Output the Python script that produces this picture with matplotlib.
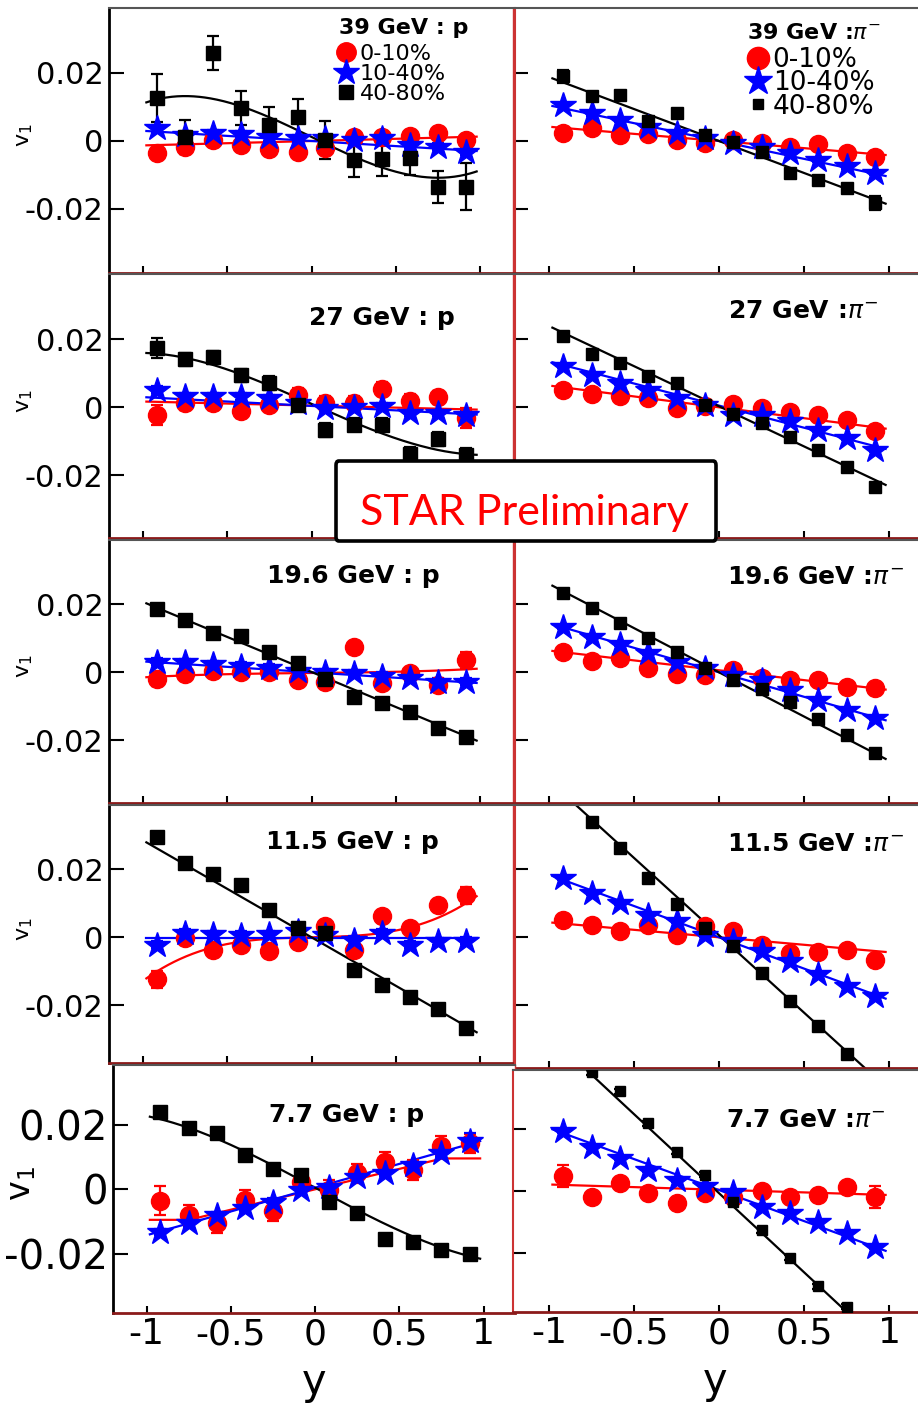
import numpy as np
import matplotlib
matplotlib.use('Agg')
import matplotlib.pyplot as plt
from matplotlib.lines import Line2D
from matplotlib.patches import FancyBboxPatch

plt.rcParams['font.family'] = ['DejaVu Sans']
plt.rcParams['axes.unicode_minus'] = False
plt.rcParams['mathtext.fontset'] = 'dejavusans'

W, H = 918, 1405

# rapidity bin centres
y_bins = [-0.917, -0.75, -0.583, -0.417, -0.25, -0.083, 0.083, 0.25, 0.417, 0.583, 0.75, 0.917]

# v1 per centrality: [0-10%, 10-40%, 40-80%]
v1_p39 = [[-0.0036, -0.0017, 0.0003, -0.0012, -0.0024, -0.0032, -0.0022, 0.0013, 0.0013, 0.0016, 0.0025, 0.0003],
          [0.0037, 0.0018, 0.0023, 0.0020, 0.0011, 0.0008, 0.0008, 0.0003, 0.0010, -0.0012, -0.0017, -0.0032],
          [0.0126, 0.0013, 0.0259, 0.0097, 0.0047, 0.0070, 0.0003, -0.0056, -0.0053, -0.0051, -0.0135, -0.0135]]
err_p39 = [[0.0012] * 12,
           [0.0010] * 12,
           [0.007, 0.005, 0.005, 0.005, 0.0054, 0.0055, 0.0055, 0.005, 0.005, 0.005, 0.0047, 0.0069]]
fit_p39 = [[0.0, 0.0013, 0.0], [0.0, -0.003, 0.0], [0.0012, -0.024, 0.0142]]

v1_pi39 = [[0.0024, 0.0037, 0.0018, 0.0022, 0.0003, -0.0005, 0.0003, -0.0005, -0.0017, -0.0010, -0.0036, -0.0046],
           [0.0105, 0.0081, 0.0061, 0.0042, 0.0024, 0.0008, -0.0007, -0.0017, -0.0036, -0.0056, -0.0075, -0.0095],
           [0.0190, 0.0133, 0.0135, 0.0060, 0.0081, 0.0018, -0.0002, -0.0031, -0.0095, -0.0114, -0.0139, -0.0182]]
err_pi39 = [[0.0008] * 12,
            [0.0006] * 12,
            [0.002] + [0.001] * 10 + [0.002]]
fit_pi39 = [[0.0, -0.0042, 0.0], [0.0, -0.0105, 0.0], [0.0, -0.0188, 0.0]]

v1_p27 = [[-0.0022, 0.0013, 0.0013, -0.0012, 0.0008, 0.0037, 0.0013, 0.0013, 0.0055, 0.0018, 0.0029, -0.0031],
          [0.0052, 0.0032, 0.0032, 0.0032, 0.0026, 0.0013, -0.0002, 0.0, 0.0003, -0.0017, -0.0017, -0.0022],
          [0.0175, 0.0141, 0.0147, 0.0094, 0.0072, 0.0008, -0.0066, -0.0051, -0.0051, -0.0138, -0.0093, -0.0140]]
err_p27 = [[0.003] + [0.002] * 10 + [0.003],
           [0.001] * 12,
           [0.003] + [0.002] * 11]
fit_p27 = [[0.0005, -0.0012, 0.0], [0.0004, -0.0026, 0.0], [0.001, -0.022, 0.007]]

v1_pi27 = [[0.0052, 0.0039, 0.0032, 0.0028, -0.0002, 0.0003, 0.0010, -0.0002, -0.0015, -0.0022, -0.0036, -0.0071],
           [0.0121, 0.0096, 0.0072, 0.0052, 0.0028, 0.0008, -0.0022, -0.0022, -0.0041, -0.0066, -0.0090, -0.0125],
           [0.0209, 0.0157, 0.0131, 0.0091, 0.0072, 0.0008, -0.0020, -0.0046, -0.0088, -0.0125, -0.0177, -0.0233]]
err_pi27 = [[0.0008] * 12, [0.0006] * 12, [0.0008] * 12]
fit_pi27 = [[0.0, -0.0064, 0.0], [0.0005, -0.013, 0.0], [0.0003, -0.0236, 0.0]]

v1_p196 = [[-0.0020, -0.0006, 0.0004, 0.0002, 0.0, -0.0023, -0.0028, 0.0073, -0.0032, -0.0003, -0.0037, 0.0036],
           [0.0031, 0.0029, 0.0024, 0.0020, 0.0014, 0.0004, 0.0, -0.0003, -0.0010, -0.0016, -0.0028, -0.0028],
           [0.0187, 0.0154, 0.0117, 0.0108, 0.0061, 0.0027, -0.0020, -0.0072, -0.0091, -0.0116, -0.0163, -0.0190]]
err_p196 = [[0.002] + [0.0015] * 10 + [0.0025], [0.001] * 12, [0.0012] * 12]
fit_p196 = [[-0.0002, 0.0005, 0.0008], [0.0, -0.0032, 0.0], [0.0001, -0.0206, 0.0]]

v1_pi196 = [[0.0060, 0.0033, 0.0043, 0.0014, -0.0006, -0.0008, 0.0007, -0.0016, -0.0022, -0.0022, -0.0042, -0.0047],
            [0.0134, 0.0104, 0.0082, 0.0056, 0.0031, 0.0012, -0.0008, -0.0022, -0.0052, -0.0081, -0.0110, -0.0135],
            [0.0232, 0.0190, 0.0144, 0.0101, 0.0060, 0.0014, -0.0022, -0.0049, -0.0086, -0.0137, -0.0184, -0.0237]]
err_pi196 = [[0.0008] * 12, [0.0006] * 12, [0.0008] * 12]
fit_pi196 = [[0.0006, -0.0058, 0.0], [0.0, -0.0144, 0.0], [0.0, -0.026, 0.0]]

v1_p115 = [[-0.0124, -0.0002, -0.0036, -0.0022, -0.0041, -0.0014, 0.0032, -0.0036, 0.0062, 0.0027, 0.0096, 0.0123],
           [-0.0022, 0.0013, 0.0010, 0.0008, 0.0010, 0.0020, 0.0008, -0.0007, 0.0013, -0.0022, -0.0012, -0.0010],
           [0.0296, 0.0218, 0.0185, 0.0154, 0.0081, 0.0027, 0.0013, -0.0095, -0.0139, -0.0176, -0.0212, -0.0266]]
err_p115 = [[0.0025] + [0.0015] * 10 + [0.0025], [0.001] * 12, [0.0015] + [0.001] * 11]
fit_p115 = [[0.0, 0.001, 0.0118], [-0.0002, 0.0, 0.0], [0.0, -0.0285, 0.0]]

v1_pi115 = [[0.0052, 0.0037, 0.0020, 0.0037, 0.0008, 0.0032, 0.0018, -0.0022, -0.0046, -0.0043, -0.0036, -0.0068],
            [0.0174, 0.0130, 0.0100, 0.0066, 0.0047, 0.0008, -0.0012, -0.0041, -0.0070, -0.0109, -0.0143, -0.0173],
            [0.0415, 0.0340, 0.0264, 0.0174, 0.0098, 0.0027, -0.0026, -0.0104, -0.0188, -0.0261, -0.0342, -0.0420]]
err_pi115 = [[0.0008] * 12, [0.0006] * 12, [0.0008] * 12]
fit_pi115 = [[0.0, -0.0044, 0.0], [0.0, -0.0184, 0.0], [0.0006, -0.0455, 0.0]]

v1_p77 = [[-0.0035, -0.0080, -0.0106, -0.0033, -0.0069, 0.0024, -0.0002, 0.0050, 0.0086, 0.0060, 0.0135, 0.0143],
          [-0.0132, -0.0106, -0.0080, -0.0059, -0.0038, -0.0002, 0.0008, 0.0039, 0.0050, 0.0076, 0.0112, 0.0151],
          [0.0241, 0.0190, 0.0176, 0.0107, 0.0062, 0.0045, -0.0041, -0.0073, -0.0155, -0.0163, -0.0189, -0.0201]]
err_p77 = [[0.0045] + [0.003] * 11, [0.001] * 11 + [0.0025], [0.0013] * 12]
fit_p77 = [[0.0, 0.0127, 0.0], [0.0005, 0.0148, 0.0], [0.0005, -0.0281, 0.0058]]
# the central fit is flat outside |y| ~ 0.75
clip_p77 = [(-0.0095, 0.0096), None, None]

v1_pi77 = [[0.0049, -0.0020, 0.0027, -0.0008, -0.0038, -0.0005, -0.0018, 0.0001, -0.0018, -0.0013, 0.0012, -0.0020],
           [0.0192, 0.0143, 0.0106, 0.0068, 0.0036, 0.0016, -0.0002, -0.0051, -0.0072, -0.0099, -0.0137, -0.0180],
           [0.0460, 0.0383, 0.0321, 0.0219, 0.0127, 0.0052, -0.0034, -0.0126, -0.0216, -0.0308, -0.0374, -0.0470]]
err_pi77 = [[0.0035] + [0.0008] * 10 + [0.0035], [0.0006] * 12, [0.0008] * 12]
fit_pi77 = [[0.0004, -0.0017, 0.0], [0.0003, -0.020, 0.0], [-0.0007, -0.051, 0.0]]

cent_labels = ['0-10%', '10-40%', '40-80%']

fig = plt.figure(figsize=(W / 100, H / 100), dpi=100)
fig.patch.set_facecolor('white')


def make_axes(box, x0, xs, y0, ys):
    # box in pixels (left, top, right, bottom); x0/y0 pixel of the origin, xs/ys pixels per unit
    l, t, r, b = box
    ax = fig.add_axes([l / W, 1 - b / H, (r - l) / W, (b - t) / H])
    ax.set_xlim((l - x0) / xs, (r - x0) / xs)
    ax.set_ylim((y0 - b) / ys, (y0 - t) / ys)
    return ax


def draw_series(ax, vals, errs, fits, sq, clips=(None, None, None)):
    yy = np.linspace(-0.98, 0.98, 300)
    styles = [('o', 'red', 13), ('*', 'blue', 19), ('s', 'black', sq)]
    for (mk, col, ms), v, e, (a0, a1, a3), cl in zip(styles, vals, errs, fits, clips):
        f = a0 + a1 * yy + a3 * yy ** 3
        if cl is not None:
            f = np.clip(f, cl[0], cl[1])
        ax.plot(yy, f, color=col, lw=1.6, zorder=2)
        ax.errorbar(y_bins, v, yerr=e, fmt=mk, color=col, ms=ms, mec=col,
                    elinewidth=1.6, capsize=4, capthick=1.6, zorder=3)


def style_axes(ax, left_col, bottom_row, big=False):
    ax.set_xticks([-1, -0.5, 0, 0.5, 1])
    ax.set_xticklabels(['-1', '-0.5', '0', '0.5', '1'])
    ax.set_yticks([-0.02, 0, 0.02])
    ax.set_yticklabels(['-0.02', '0', '0.02'])
    ax.tick_params(axis='x', direction='in', length=5, width=1.5, top=False,
                   labelbottom=bottom_row, labelsize=26, pad=3)
    ax.tick_params(axis='y', direction='in', length=11 if left_col else 9, width=1.5,
                   right=False, labelleft=left_col,
                   labelsize=29 if big else 22, pad=3.5 if big else 4)
    ax.spines['top'].set_color('#555555')
    ax.spines['top'].set_linewidth(1.5)
    ax.spines['bottom'].set_color('#8b1a1a')
    ax.spines['bottom'].set_linewidth(2)
    if left_col:
        ax.spines['left'].set_color('black')
        ax.spines['left'].set_linewidth(2)
        ax.spines['right'].set_color('#cc3333')
        ax.spines['right'].set_linewidth(1)
        ax.set_ylabel(r'$\mathregular{v_1}$', fontsize=24 if big else 16)
        ax.yaxis.set_label_coords(-0.187 if big else -0.183, 0.52)
    else:
        ax.spines['left'].set_color('#cc3333')
        ax.spines['left'].set_linewidth(1.5)
        ax.spines['right'].set_visible(False)
    if bottom_row:
        ax.set_xlabel('y', fontsize=30, labelpad=7)


# (values, errors, fits, clip, title, title centre px, title size, box px, x-origin px, px per unit x,
#  y-origin px, px per unit y, left column, bottom row, square size)
panels = [
    (v1_p39, err_p39, fit_p39, None, '39 GeV : p', (404, 28), 16,
     (109, 8, 513, 273), 311.5, 168.5, 141.0, 3400, True, False, 10),
    (v1_pi39, err_pi39, fit_pi39, None, r'39 GeV :$\pi^{-}$', (814, 33), 16,
     (515, 8, 918, 273), 719, 170, 141.0, 3400, False, False, 8),
    (v1_p27, err_p27, fit_p27, None, '27 GeV : p', (382, 318), 18,
     (109, 274, 513, 538), 311.5, 168.5, 407.3, 3400, True, False, 10),
    (v1_pi27, err_pi27, fit_pi27, None, r'27 GeV :$\pi^{-}$', (803, 311), 18,
     (515, 274, 918, 538), 719, 170, 407.3, 3400, False, False, 8),
    (v1_p196, err_p196, fit_p196, None, '19.6 GeV : p', (353, 576), 18,
     (109, 540, 513, 803), 311.5, 168.5, 672.3, 3400, True, False, 10),
    (v1_pi196, err_pi196, fit_pi196, None, r'19.6 GeV :$\pi^{-}$', (815, 577), 18,
     (515, 540, 918, 803), 719, 170, 672.3, 3400, False, False, 8),
    (v1_p115, err_p115, fit_p115, None, '11.5 GeV : p', (352, 842), 18,
     (109, 805, 513, 1063), 311.5, 168.5, 937.3, 3400, True, False, 10),
    (v1_pi115, err_pi115, fit_pi115, None, r'11.5 GeV :$\pi^{-}$', (815, 844), 18,
     (515, 805, 918, 1068), 719, 170, 937.3, 3400, False, False, 8),
    (v1_p77, err_p77, fit_p77, clip_p77, '7.7 GeV : p', (347, 1115), 18,
     (113, 1065, 515, 1313), 315, 168.5, 1189.3, 3215, True, True, 10),
    (v1_pi77, err_pi77, fit_pi77, None, r'7.7 GeV :$\pi^{-}$', (806, 1120), 18,
     (513, 1070, 918, 1312), 719, 170, 1191.0, 3100, False, True, 7),
]

axes = []
for (vals, errs, fits, clips, title, tpos, tsize, box, x0, xs, y0, ys,
     left_col, bottom_row, sq) in panels:
    ax = make_axes(box, x0, xs, y0, ys)
    draw_series(ax, vals, errs, fits, sq, clips if clips else (None, None, None))
    style_axes(ax, left_col, bottom_row, big=bottom_row and left_col)
    fig.text(tpos[0] / W, 1 - tpos[1] / H, title, fontsize=tsize, fontweight='bold',
             ha='center', va='center')
    axes.append(ax)

# centrality legends in the top row
for ax, msz, fs, anchor, lsp, htp in [
        (axes[0], (14, 19, 10), 16, (0.564, 0.864), 0.0, 0.24),
        (axes[1], (16, 21, 7), 19, (0.578, 0.853), -0.1, 0.14)]:
    handles = [Line2D([], [], ls='none', marker='o', color='red', ms=msz[0]),
               Line2D([], [], ls='none', marker='*', color='blue', ms=msz[1]),
               Line2D([], [], ls='none', marker='s', color='black', ms=msz[2])]
    ax.legend(handles, cent_labels, loc='upper left', bbox_to_anchor=anchor,
              frameon=False, fontsize=fs, handlelength=0.8, handletextpad=htp,
              labelspacing=lsp, borderpad=0, borderaxespad=0)

# preliminary stamp across the middle
box = FancyBboxPatch((336 / W, 1 - 541 / H), 380 / W, 80 / H,
                     boxstyle='round,pad=0,rounding_size=0.003',
                     transform=fig.transFigure, fc='white', ec='black', lw=2.6, zorder=10)
fig.add_artist(box)
fig.text(524 / W, 1 - 525 / H, 'STAR Preliminary', color='red', fontsize=31,
         family='Lato', ha='center', va='baseline', zorder=11)

fig.savefig('out.png', dpi=100)
